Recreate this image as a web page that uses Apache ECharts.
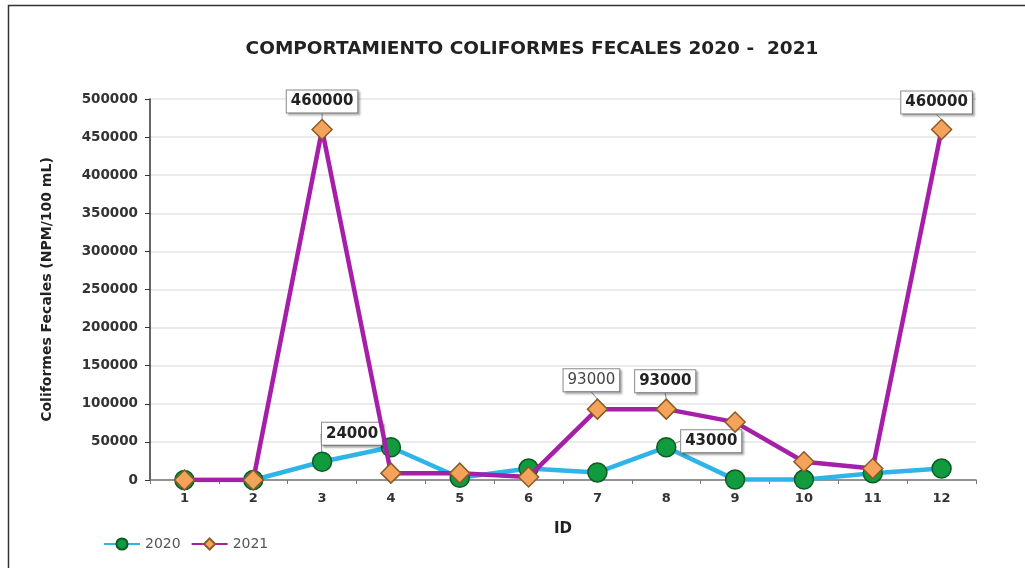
<!DOCTYPE html>
<html>
<head>
<meta charset="utf-8">
<script src="https://cdn.jsdelivr.net/npm/echarts@6/dist/echarts.min.js"></script>
<style>html,body{margin:0;padding:0;background:#fff}#c{width:1025px;height:568px}</style>
</head>
<body>
<div id="c"></div>
<script>
var categories = ['1','2','3','4','5','6','7','8','9','10','11','12'];
var values2020 = [0, 0, 24000, 43000, 3000, 15000, 10000, 43000, 500, 500, 9000, 15000];
var values2021 = [0, 0, 460000, 9000, 9000, 4000, 93000, 93000, 76000, 24000, 15000, 460000];
var yTicks = [0, 50000, 100000, 150000, 200000, 250000, 300000, 350000, 400000, 450000, 500000];
var title = 'COMPORTAMIENTO COLIFORMES FECALES 2020 -  2021';

var FONT = 'DejaVu Sans, Liberation Sans, Arial, sans-serif';

// which points carry a callout label: index -> [dx, dy, bold]
var callouts2020 = {2: [30, -28, true], 7: [45, -6, true]};
var callouts2021 = {2: [0, -28, true], 6: [-6, -29, false], 7: [-1, -28, true], 11: [-5, -27, true]};
var calloutsBySeries = [callouts2020, callouts2021];

function makeData(vals, callouts) {
  return vals.map(function (v, i) {
    var c = callouts[i];
    if (!c) return v;
    return {
      value: v,
      label: {
        show: true,
        position: 'inside',
        fontWeight: c[2] ? 'bold' : 'normal',
        fontSize: 15,
        fontFamily: FONT,
        color: c[2] ? '#222' : '#444',
        backgroundColor: '#fff',
        borderColor: '#8a8a8a',
        borderWidth: 1,
        padding: [4, 4, 3, 4],
        shadowColor: 'rgba(0,0,0,0.25)',
        shadowOffsetX: 2,
        shadowOffsetY: 2,
        shadowBlur: 2
      },
      labelLine: {show: true, lineStyle: {color: '#8a8a8a', width: 1}}
    };
  });
}

function layoutFor(seriesIdx) {
  return function (params) {
    var c = calloutsBySeries[seriesIdx][params.dataIndex];
    if (!c) return {};
    return {dx: c[0], dy: c[1]};
  };
}

var chart = echarts.init(document.getElementById('c'));
chart.setOption({
  backgroundColor: '#fff',
  animation: false,
  title: {
    text: title,
    left: 527,
    top: 35,
    textAlign: 'center',
    textStyle: {fontSize: 18.5, fontWeight: 'bold', color: '#222', fontFamily: FONT}
  },
  graphic: [{
    type: 'rect',
    shape: {x: 8.5, y: 5.5, width: 1040, height: 600},
    style: {fill: 'none', stroke: '#333', lineWidth: 1.5},
    silent: true
  }],
  legend: {
    left: 98,
    top: 532,
    itemWidth: 36,
    itemHeight: 14,
    itemGap: 10,
    textStyle: {fontSize: 14, color: '#555', fontFamily: FONT},
    data: ['2020', '2021']
  },
  grid: {left: 150, right: 49, top: 99, bottom: 88, containLabel: false},
  xAxis: {
    type: 'category',
    data: categories,
    boundaryGap: true,
    name: 'ID',
    nameLocation: 'middle',
    nameGap: 42,
    nameTextStyle: {fontSize: 15, fontWeight: 'bold', color: '#222', fontFamily: FONT},
    axisLine: {lineStyle: {color: '#777', width: 1.5}},
    axisTick: {show: true, alignWithLabel: false, length: 4, lineStyle: {color: '#777'}},
    axisLabel: {fontSize: 13, fontWeight: 'bold', color: '#333', margin: 12, fontFamily: FONT}
  },
  yAxis: {
    type: 'value',
    min: yTicks[0],
    max: yTicks[yTicks.length - 1],
    interval: yTicks[1] - yTicks[0],
    name: 'Coliformes Fecales (NPM/100 mL)',
    nameLocation: 'middle',
    nameGap: 96,
    nameTextStyle: {fontSize: 14, fontWeight: 'bold', color: '#222', fontFamily: FONT},
    axisLine: {show: true, lineStyle: {color: '#333', width: 1.5}},
    axisTick: {show: true, length: 5, inside: false, lineStyle: {color: '#333'}},
    axisLabel: {fontSize: 13.5, fontWeight: 'bold', color: '#333', margin: 12, fontFamily: FONT,
      formatter: function (v) { return String(v); }},
    splitLine: {show: true, lineStyle: {color: '#e4e4e4', width: 1.5}}
  },
  series: [
    {
      name: '2020',
      type: 'line',
      data: makeData(values2020, callouts2020),
      symbol: 'circle',
      symbolSize: 19,
      z: 2,
      lineStyle: {color: '#2eb4e6', width: 4.5},
      itemStyle: {color: '#129a3e', borderColor: '#0c5a26', borderWidth: 1.5},
      label: {show: false},
      labelLayout: layoutFor(0)
    },
    {
      name: '2021',
      type: 'line',
      data: makeData(values2021, callouts2021),
      symbol: 'diamond',
      symbolSize: 20,
      z: 3,
      lineStyle: {color: '#a51fa8', width: 4.5},
      itemStyle: {color: '#f5a25a', borderColor: '#8a5a2a', borderWidth: 1.5},
      label: {show: false},
      labelLayout: layoutFor(1)
    }
  ]
});
</script>
</body>
</html>
